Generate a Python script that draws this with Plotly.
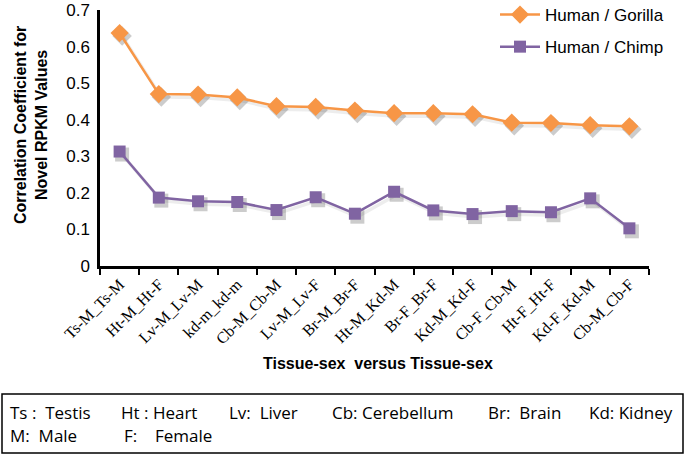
import plotly.graph_objects as go

categories = ["Ts-M_Ts-M", "Ht-M_Ht-F", "Lv-M_Lv-M", "kd-m_kd-m", "Cb-M_Cb-M", "Lv-M_Lv-F",
              "Br-M_Br-F", "Ht-M_Kd-M", "Br-F_Br-F", "Kd-M_Kd-F", "Cb-F_Cb-M", "Ht-F_Ht-F",
              "Kd-F_Kd-M", "Cb-M_Cb-F"]
gorilla = [0.637, 0.470, 0.469, 0.461, 0.437, 0.435, 0.425, 0.418, 0.418, 0.415, 0.392, 0.391, 0.385, 0.382]
chimp = [0.313, 0.187, 0.177, 0.175, 0.153, 0.188, 0.143, 0.203, 0.152, 0.142, 0.150, 0.147, 0.185, 0.103]
yticks = [0, 0.1, 0.2, 0.3, 0.4, 0.5, 0.6, 0.7]
ytick_text = ["0", "0.1", "0.2", "0.3", "0.4", "0.5", "0.6", "0.7"]

W, H = 685, 456
L, R, T, B = 100, 649, 10, 266
XR = [-0.5, 13.5]
YR = [0, 0.7]

def px(x):
    return (x - L) / (R - L)

def py(y):
    return (B - y) / (B - T)

# shadow offset (pixels) expressed as axis range shift
sdx = 2.5 * (XR[1] - XR[0]) / (R - L)
sdy = 3.0 * (YR[1] - YR[0]) / (B - T)

fig = go.Figure()
# soft shadows (base axes, hidden)
for vals, sym, sz in [(gorilla, "diamond", 15), (chimp, "square", 14)]:
    fig.add_trace(go.Scatter(x=categories, y=vals, mode="lines+markers", showlegend=False,
                             hoverinfo="skip", xaxis="x", yaxis="y",
                             line=dict(color="rgba(0,0,0,0.07)", width=3.5),
                             marker=dict(symbol=sym, size=sz, color="rgba(0,0,0,0.2)")))
fig.add_trace(go.Scatter(x=categories, y=gorilla, name="Human / Gorilla", mode="lines+markers",
                         legendgroup="g", xaxis="x2", yaxis="y2",
                         line=dict(color="#F79646", width=2.5),
                         marker=dict(symbol="diamond", size=14, color="#F79646")))
fig.add_trace(go.Scatter(x=categories, y=chimp, name="Human / Chimp", mode="lines+markers",
                         legendgroup="c", xaxis="x2", yaxis="y2",
                         line=dict(color="#8064A2", width=2.5),
                         marker=dict(symbol="square", size=12, color="#8064A2")))

fig.update_layout(
    width=W, height=H,
    margin=dict(l=L, r=W - R, t=T, b=H - B, autoexpand=False),
    paper_bgcolor="white", plot_bgcolor="rgba(0,0,0,0)",
    font=dict(family="Liberation Sans, Arial", color="black"),
    showlegend=True,
    legend=dict(x=px(495), y=py(-3), xanchor="left", yanchor="top",
                font=dict(size=17, family="Liberation Sans, Arial"),
                bgcolor="rgba(0,0,0,0)", traceorder="grouped", tracegroupgap=7, itemwidth=40),
    xaxis=dict(visible=False, range=[XR[0] - sdx, XR[1] - sdx], automargin=False,
               categoryorder="array", categoryarray=categories),
    yaxis=dict(visible=False, range=[YR[0] + sdy, YR[1] + sdy], automargin=False),
    xaxis2=dict(overlaying="x", anchor="y2", side="bottom",
                showline=True, linecolor="black", linewidth=2.5, ticks="outside",
                tickson="boundaries", ticklen=6, tickwidth=2, tickcolor="black",
                tickangle=-45, showgrid=False, automargin=False,
                categoryorder="array", categoryarray=categories,
                tickfont=dict(family="Liberation Serif, Times New Roman", size=16),
                range=XR),
    yaxis2=dict(overlaying="y", anchor="x2", side="left",
                showline=True, linecolor="black", linewidth=2.5, showgrid=False, automargin=False,
                range=YR, tickvals=yticks, ticktext=ytick_text, ticks="",
                ticklabelstandoff=4,
                tickfont=dict(size=17), zeroline=False),
)

annos = [
    dict(text="<b>Correlation Coefficient for<br>Novel RPKM Values</b>", x=px(31), y=py(125),
         textangle=-90, font=dict(size=16)),
    dict(text="<b>Tissue-sex  versus Tissue-sex</b>", x=px(378), y=py(363), font=dict(size=16)),
]
legend_items = [
    ("Ts :  Testis", 8, 412), ("Ht : Heart", 119, 412), ("Lv:  Liver", 227, 412),
    ("Cb: Cerebellum", 330, 412), ("Br:  Brain", 486, 412), ("Kd: Kidney", 587, 412),
    ("M:  Male", 8, 435), ("F:    Female", 122, 435),
]
for t, x, y in legend_items:
    annos.append(dict(text=t, x=px(x), y=py(y), xanchor="left",
                      font=dict(size=17, family="Open Sans, Liberation Sans")))
for a in annos:
    a.setdefault("xanchor", "center")
    fig.add_annotation(xref="paper", yref="paper", showarrow=False, yanchor="middle", **a)

fig.add_shape(type="rect", xref="paper", yref="paper", x0=px(2), x1=px(683), y0=py(394), y1=py(453),
              line=dict(color="black", width=1.5))

fig.write_html("out.html", config={"displayModeBar": False},
               post_script="document.body.style.margin='0px';")
